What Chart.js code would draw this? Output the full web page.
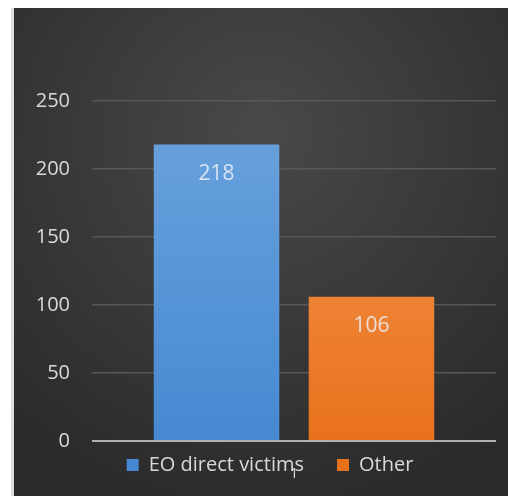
<!DOCTYPE html>
<html>
<head>
<meta charset="utf-8">
<script src="https://cdn.jsdelivr.net/npm/chart.js@4.4.0/dist/chart.umd.min.js"></script>
<style>
    html, body { margin: 0; padding: 0; background: #fff; }
    body { width: 508px; height: 496px; position: relative; overflow: hidden; }
    #edge { position: absolute; left: 11px; top: 8px; width: 3px; height: 488px; background: #dedede; }
    #wrap { position: absolute; left: 14px; top: 8px; width: 494px; height: 488px; }
</style>
</head>
<body>
<div id="edge"></div>
<div id="wrap"><canvas id="myChart" width="494" height="488"></canvas></div>
<script>
const categories = ['1'];
const seriesNames = ['EO direct victims', 'Other'];
const eoValues = [218];
const otherValues = [106];
const yTicks = [0, 50, 100, 150, 200, 250];

const fontFam = "'Open Sans', 'Noto Sans', sans-serif";
const textCol = '#d9d9d9';

function barGradient(ctx, top, bottom) {
    const chart = ctx.chart;
    const area = chart.chartArea;
    if (!area) return bottom;
    const g = chart.ctx.createLinearGradient(0, area.top, 0, area.bottom);
    g.addColorStop(0, top);
    g.addColorStop(1, bottom);
    return g;
}

// dark radial backdrop
const backdrop = {
    id: 'backdrop',
    beforeDraw(chart) {
        const c = chart.ctx;
        const w = chart.width, h = chart.height;
        const g = c.createRadialGradient(w * 0.5, h * 0.25, 10, w * 0.5, h * 0.3, w * 0.75);
        g.addColorStop(0, '#484848');
        g.addColorStop(1, '#2a2a2a');
        c.save();
        c.fillStyle = g;
        c.fillRect(0, 0, w, h);
        c.restore();
    },
    // nudge the legend a bit right, like the original
    afterLayout(chart) {
        if (chart.legend) {
            chart.legend.left += 15;
            chart.legend.right += 15;
        }
    }
};

// value labels inside bars + the lone category label under the axis
const valueLabels = {
    id: 'valueLabels',
    afterDatasetsDraw(chart) {
        const c = chart.ctx;
        c.save();
        c.font = '21px ' + fontFam;
        c.textAlign = 'center';
        c.textBaseline = 'middle';
        chart.data.datasets.forEach((ds, i) => {
            const meta = chart.getDatasetMeta(i);
            meta.data.forEach((bar, j) => {
                c.fillStyle = 'rgba(235,240,248,0.85)';
                c.fillText(ds.data[j], bar.x, bar.y + 29);
            });
        });
        c.font = '15px ' + fontFam;
        c.fillStyle = textCol;
        categories.forEach((cat, k) => {
            c.fillText(cat, chart.scales.x.getPixelForValue(k), chart.chartArea.bottom + 33);
        });
        c.restore();
    }
};

const ctx = document.getElementById('myChart').getContext('2d');
const myChart = new Chart(ctx, {
    type: 'bar',
    data: {
        labels: categories,
        datasets: [{
            label: seriesNames[0],
            data: eoValues,
            backgroundColor: (c) => barGradient(c, '#6ba3dd', '#4689d2'),
            categoryPercentage: 0.767,
            barPercentage: 0.81
        }, {
            label: seriesNames[1],
            data: otherValues,
            backgroundColor: (c) => barGradient(c, '#f79a56', '#e8711c'),
            categoryPercentage: 0.767,
            barPercentage: 0.81
        }]
    },
    options: {
        responsive: false,
        animation: false,
        layout: {
            padding: { top: 93, right: 12, bottom: -8, left: 0 }
        },
        scales: {
            y: {
                min: 0,
                max: 250,
                afterBuildTicks: (scale) => { scale.ticks = yTicks.map(v => ({ value: v })); },
                afterFit: (scale) => { scale.width = 78; },
                border: { display: false },
                grid: {
                    drawTicks: false,
                    color: (c) => c.tick && c.tick.value === 0 ? '#b0b0b0' : '#575757',
                    lineWidth: (c) => c.tick && c.tick.value === 0 ? 2 : 1.5
                },
                ticks: {
                    padding: 22,
                    color: textCol,
                    font: { family: fontFam, size: 20 }
                }
            },
            x: {
                afterFit: (scale) => { scale.height = -19; },
                border: { display: false },
                grid: { display: false, drawTicks: false },
                ticks: { display: false }
            }
        },
        plugins: {
            legend: {
                position: 'bottom',
                labels: {
                    color: textCol,
                    boxWidth: 12,
                    boxHeight: 12,
                    padding: 33,
                    font: { family: fontFam, size: 20 }
                }
            },
            tooltip: { enabled: false }
        }
    },
    plugins: [backdrop, valueLabels]
});
</script>
</body>
</html>
